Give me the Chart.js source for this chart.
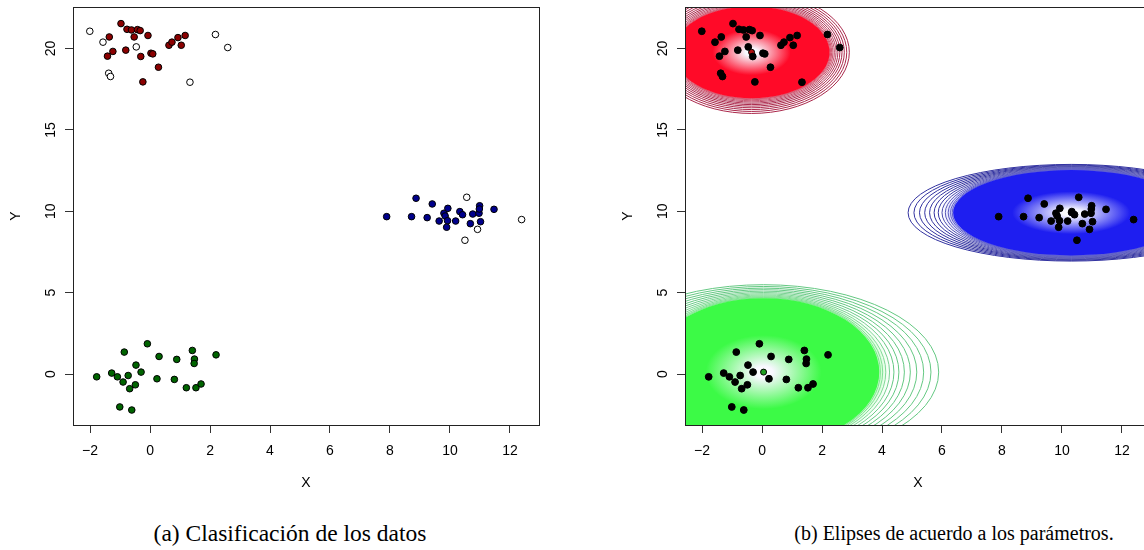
<!DOCTYPE html>
<html>
<head>
<meta charset="utf-8">
<script src="https://cdn.jsdelivr.net/npm/chart.js@4.4.1/dist/chart.umd.min.js"></script>
<style>
  html, body { margin: 0; padding: 0; background: #fff; }
  #hoja { position: relative; width: 1144px; height: 550px; overflow: hidden; }
  canvas { position: absolute; top: 0; }
  #graficoA { left: 0; }
  #graficoB { left: 612px; }
  .pie {
    position: absolute; top: 519px; width: 500px; margin-left: -250px;
    text-align: center; font-family: 'Liberation Serif', 'Times New Roman', serif;
    font-size: 20px; line-height: 28px; color: #000; white-space: nowrap;
  }
</style>
</head>
<body>
<div id="hoja">
  <canvas id="graficoA" width="560" height="500"></canvas>
  <canvas id="graficoB" width="560" height="500"></canvas>
  <div class="pie" style="left:290px; font-size:23.5px">(a) Clasificación de los datos</div>
  <div class="pie" style="left:954px">(b) Elipses de acuerdo a los parámetros.</div>
</div>
<script>
// ejes
const xTicks = [-2, 0, 2, 4, 6, 8, 10, 12];
const yTicks = [0, 5, 10, 15, 20];
const xLimites = [-2.57, 12.97];
const yLimites = [-3.13, 22.55];

// grupo rojo (bien clasificados y puntos abiertos)
const rojoX = [-0.97, -0.77, -0.62, -0.42, -0.33, -0.53, -0.07, -1.36, -1.24, -1.42, -0.81, -0.31, 0.03, 0.09, 0.28, -0.24, 0.63, 0.73, 0.93, 1.17, 1.04];
const rojoY = [21.53, 21.18, 21.14, 21.16, 21.10, 20.71, 20.80, 20.71, 19.82, 19.53, 19.90, 19.51, 19.71, 19.67, 18.85, 17.95, 20.20, 20.39, 20.67, 20.80, 20.20];
const rojoAbiertoX = [-2.01, -1.57, -0.46, -1.38, -1.32, 1.33, 2.18, 2.59];
const rojoAbiertoY = [21.06, 20.39, 20.10, 18.48, 18.28, 17.93, 20.86, 20.06];

// grupo azul
const azulX = [7.89, 8.72, 8.87, 9.24, 9.41, 9.64, 9.80, 9.84, 9.93, 9.92, 9.89, 10.19, 10.33, 10.42, 10.68, 10.76, 10.97, 10.99, 10.98, 11.02, 11.47];
const azulY = [9.67, 9.67, 10.80, 9.61, 10.45, 9.40, 9.88, 9.71, 10.18, 9.42, 9.02, 9.40, 9.98, 9.79, 9.24, 9.83, 9.88, 10.34, 10.14, 9.36, 10.12];
const azulAbiertoX = [10.56, 12.39, 10.92, 10.50];
const azulAbiertoY = [10.86, 9.49, 8.89, 8.22];

// grupo verde
const verdeX = [-1.78, -1.28, -1.09, -0.90, -0.73, -0.86, -0.47, -0.30, -0.49, -0.68, -0.09, 0.30, 0.23, 0.89, 0.81, 1.41, 1.48, 1.47, 1.21, 1.53, 1.70, 2.20, -1.01, -0.61];
const verdeY = [-0.17, 0.06, -0.17, -0.49, -0.09, 1.35, 0.55, 0.12, -0.66, -0.90, 1.86, 1.08, -0.29, 0.90, -0.33, 1.45, 0.92, 0.65, -0.84, -0.84, -0.61, 1.18, -2.02, -2.21];

// parametros de las elipses (rojo, azul, verde)
const mediaX = [-0.35, 10.31, 0.05];
const mediaY = [19.77, 9.91, 0.12];
const rellenoRx = [2.6, 3.94, 3.86];
const rellenoRy = [2.82, 2.62, 4.54];
const exteriorRx = [3.26, 5.44, 5.84];
const exteriorRy = [3.76, 2.97, 5.37];
const colorRelleno = ['rgb(255,10,40)', 'rgb(30,30,240)', 'rgb(60,250,70)'];
const colorLinea = ['rgb(170,40,75)', 'rgb(50,50,160)', 'rgb(100,200,130)'];
const colorMedia = ['#b01010', '#1010d0', '#20a020'];

Chart.defaults.font.family = "'Liberation Sans', Arial, sans-serif";
Chart.defaults.font.size = 14;
Chart.defaults.color = '#000';

function pares(xs, ys) {
    return xs.map((v, i) => ({x: v, y: ys[i]}));
}

function escalas() {
    return {
        x: {
            type: 'linear',
            min: xLimites[0],
            max: xLimites[1],
            afterBuildTicks: s => { s.ticks = xTicks.map(v => ({value: v})); },
            afterFit: s => { s.height = 75; s.paddingLeft = 0; s.paddingRight = 0; },
            grid: { drawOnChartArea: false, drawTicks: true, tickLength: 8, color: '#333' },
            border: { display: false },
            ticks: { padding: 10, callback: v => String(v).replace('-', '\u2212') },
            title: { display: true, text: 'X', padding: {top: 0, bottom: 8} }
        },
        y: {
            type: 'linear',
            min: yLimites[0],
            max: yLimites[1],
            afterBuildTicks: s => { s.ticks = yTicks.map(v => ({value: v})); },
            afterFit: s => { s.width = 73; s.paddingTop = 0; s.paddingBottom = 0; },
            grid: { drawOnChartArea: false, drawTicks: true, tickLength: 8, color: '#333' },
            border: { display: false },
            ticks: { padding: 6, minRotation: 90, maxRotation: 90, crossAlign: 'center' },
            title: { display: true, text: 'Y', padding: {top: 8, bottom: 0} }
        }
    };
}

// marco alrededor del area de dibujo
const marco = {
    id: 'marco',
    afterDraw(chart) {
        const {ctx, chartArea: a} = chart;
        ctx.save();
        ctx.strokeStyle = '#222';
        ctx.lineWidth = 1;
        ctx.strokeRect(Math.round(a.left) + 0.5, Math.round(a.top) + 0.5,
                       Math.round(a.width), Math.round(a.height));
        ctx.restore();
    }
};

// elipses con degradado y curvas de nivel
const elipses = {
    id: 'elipses',
    beforeDatasetsDraw(chart) {
        const {ctx, chartArea: a, scales: {x, y}} = chart;
        ctx.save();
        ctx.beginPath();
        ctx.rect(a.left, a.top, a.width, a.height);
        ctx.clip();
        for (let i = 0; i < mediaX.length; i++) {
            const cx = x.getPixelForValue(mediaX[i]);
            const cy = y.getPixelForValue(mediaY[i]);
            const rx = x.getPixelForValue(mediaX[i] + rellenoRx[i]) - cx;
            const ry = cy - y.getPixelForValue(mediaY[i] + rellenoRy[i]);
            const rxo = x.getPixelForValue(mediaX[i] + exteriorRx[i]) - cx;
            const ryo = cy - y.getPixelForValue(mediaY[i] + exteriorRy[i]);

            // curvas de nivel exteriores
            ctx.strokeStyle = colorLinea[i];
            ctx.lineWidth = 1;
            const n = 12;
            for (let k = 1; k <= n; k++) {
                const t = Math.pow(k / n, 1.6);
                ctx.beginPath();
                ctx.ellipse(cx, cy, rx + (rxo - rx) * t, ry + (ryo - ry) * t, 0, 0, 2 * Math.PI);
                ctx.stroke();
            }

            ctx.save();
            ctx.translate(cx, cy);
            ctx.scale(1, ry / rx);
            // zona de transicion
            const g0 = ctx.createRadialGradient(0, 0, rx * 0.9, 0, 0, rx * 1.12);
            g0.addColorStop(0, colorRelleno[i]);
            g0.addColorStop(1, 'rgba(255,255,255,0)');
            ctx.fillStyle = g0;
            ctx.beginPath();
            ctx.arc(0, 0, rx * 1.12, 0, 2 * Math.PI);
            ctx.fill();

            // relleno con centro blanco
            const g = ctx.createRadialGradient(0, 0, 0, 0, 0, rx);
            g.addColorStop(0, '#ffffff');
            g.addColorStop(0.08, '#f8f8ff');
            g.addColorStop(0.5, colorRelleno[i]);
            g.addColorStop(1, colorRelleno[i]);
            ctx.fillStyle = g;
            ctx.beginPath();
            ctx.arc(0, 0, rx, 0, 2 * Math.PI);
            ctx.fill();
            ctx.restore();
        }
        ctx.restore();
    }
};

function opciones() {
    return {
        responsive: false,
        animation: false,
        layout: { padding: {top: 7, right: 21, left: 0, bottom: 0} },
        plugins: { legend: {display: false}, tooltip: {enabled: false} },
        scales: escalas()
    };
}

function punto(color, borde, radio) {
    return { pointBackgroundColor: color, pointBorderColor: borde, pointBorderWidth: 1, pointRadius: radio, showLine: false };
}

// grafico (a): clasificacion
new Chart(document.getElementById('graficoA'), {
    type: 'scatter',
    data: {
        datasets: [
            Object.assign({ data: pares(rojoX, rojoY) }, punto('#8b0000', '#000', 3.3)),
            Object.assign({ data: pares(rojoAbiertoX, rojoAbiertoY) }, punto('#fff', '#000', 3.3)),
            Object.assign({ data: pares(azulX, azulY) }, punto('#00008b', '#000', 3.3)),
            Object.assign({ data: pares(azulAbiertoX, azulAbiertoY) }, punto('#fff', '#000', 3.3)),
            Object.assign({ data: pares(verdeX, verdeY) }, punto('#006400', '#000', 3.3))
        ]
    },
    options: opciones(),
    plugins: [marco]
});

// grafico (b): elipses
const todosX = rojoX.concat(rojoAbiertoX, azulX, azulAbiertoX, verdeX);
const todosY = rojoY.concat(rojoAbiertoY, azulY, azulAbiertoY, verdeY);

new Chart(document.getElementById('graficoB'), {
    type: 'scatter',
    data: {
        datasets: [
            Object.assign({ data: pares(todosX, todosY) }, punto('#000', '#000', 3.4)),
            Object.assign({ data: pares(mediaX, mediaY) }, punto(colorMedia, '#000', 3))
        ]
    },
    options: opciones(),
    plugins: [elipses, marco]
});
</script>
</body>
</html>
